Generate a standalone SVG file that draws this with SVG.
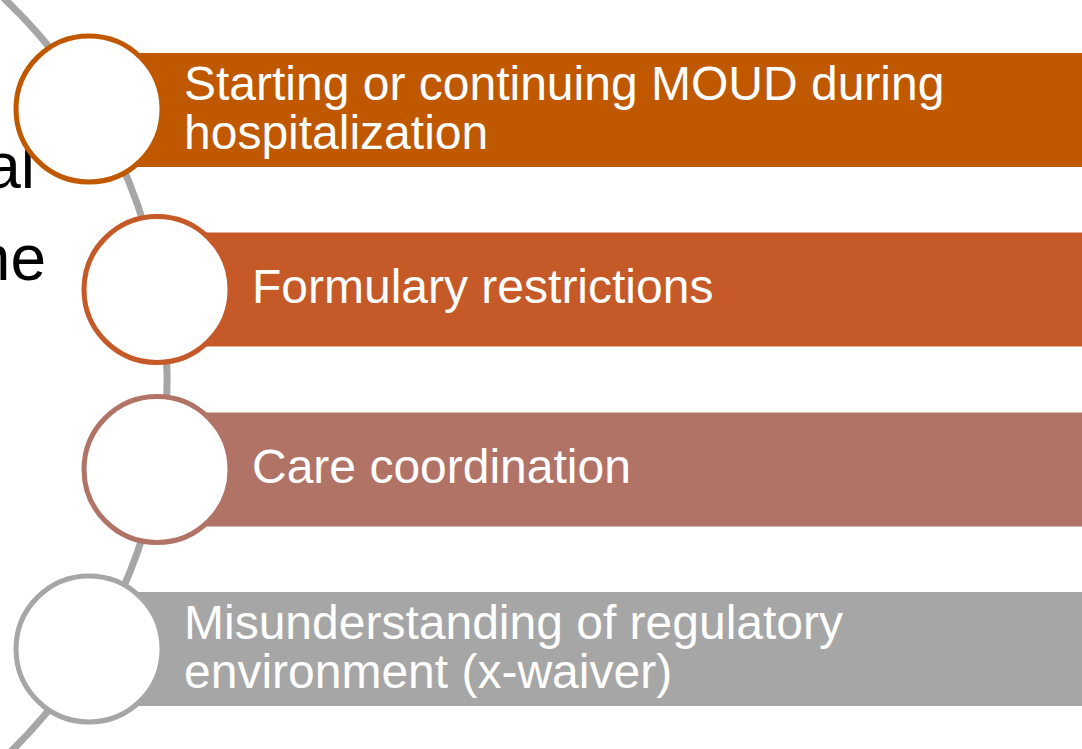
<svg xmlns="http://www.w3.org/2000/svg" width="1082" height="749" viewBox="0 0 1082 749">
  <style>
    .lbl { font-family: "Liberation Sans", Arial, sans-serif; font-size: 48px; fill: #FFFFFF; }
    .bg { font-family: "Liberation Sans", Arial, sans-serif; font-size: 64px; fill: #000000; text-anchor: end; }
    .ring { fill: #FFFFFF; stroke-width: 5; }
  </style>
  <rect width="1082" height="749" fill="#FFFFFF"/>
  <g id="background-text">
    <text class="bg" x="35" y="188">al</text>
    <text class="bg" x="46" y="280">ne</text>
  </g>
  <g id="connectors">
    <path d="M -5,-10 A 524 524 0 0 1 2,760" fill="none" stroke="#A6A6A6" stroke-width="7"/>
  </g>
  <g id="node1">
    <rect x="89" y="53" width="1000" height="114" fill="#C05800"/>
    <circle class="ring" cx="89" cy="109" r="73" stroke="#C05800"/>
    <text class="lbl" x="184" y="99.5">Starting or continuing MOUD during</text>
    <text class="lbl" x="184" y="148.5">hospitalization</text>
  </g>
  <g id="node2">
    <rect x="157" y="232.5" width="930" height="114" fill="#C55A28"/>
    <circle class="ring" cx="157" cy="289.5" r="73" stroke="#C55A28"/>
    <text class="lbl" x="252" y="303">Formulary restrictions</text>
  </g>
  <g id="node3">
    <rect x="157" y="412.5" width="930" height="114" fill="#B27367"/>
    <circle class="ring" cx="157" cy="469.5" r="73" stroke="#B27367"/>
    <text class="lbl" x="252" y="483">Care coordination</text>
  </g>
  <g id="node4">
    <rect x="89" y="592" width="1000" height="114" fill="#A6A6A6"/>
    <circle class="ring" cx="89" cy="649" r="73" stroke="#A6A6A6"/>
    <text class="lbl" x="184" y="638.5">Misunderstanding of regulatory</text>
    <text class="lbl" x="184" y="687.5">environment (x-waiver)</text>
  </g>
</svg>
